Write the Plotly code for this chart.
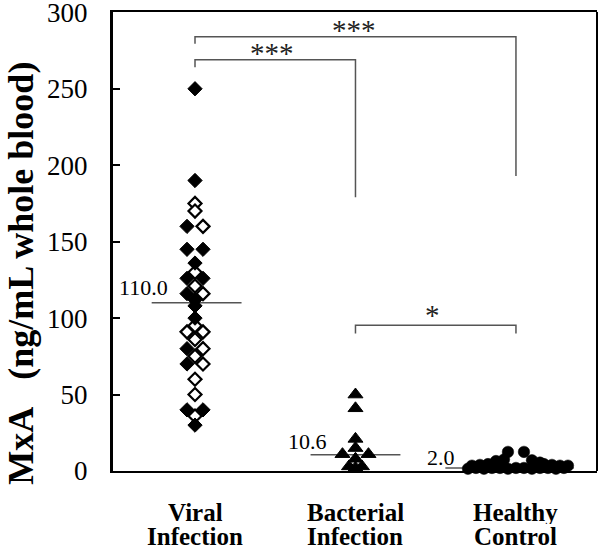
import plotly.graph_objects as go

# ---------------- data ----------------
categories = ["Viral", "Bacterial", "Healthy"]
category_line2 = ["Infection", "Infection", "Control"]
medians = [110.0, 10.6, 2.0]
y_ticks = [0, 50, 100, 150, 200, 250, 300]

# Viral infection: value, column slot (-1 left, 0 centre, 1 right), filled(1)/open(0)
viral_values = [250, 190, 175, 170, 160, 160, 145, 145, 136, 130, 126, 126, 121,
                116, 116, 112, 108, 100, 95, 91, 91, 86, 80, 80, 75, 70, 70,
                60, 50, 40, 40, 36, 30]
viral_slots = [0, 0, 0, 0, -1, 1, -1, 1, 0, 0, -1, 1, 0,
               -1, 1, 0, 0, 0, 0, -1, 1, 0, -1, 1, 0, -1, 1,
               0, 0, -1, 1, 0, 0]
viral_filled = [1, 1, 0, 0, 1, 0, 1, 1, 1, 0, 1, 1, 0,
                1, 0, 1, 1, 1, 0, 0, 0, 0, 1, 0, 0, 1, 0,
                0, 0, 1, 1, 0, 1]

# Bacterial infection
bacterial_values = [50, 41, 21, 15, 11, 11, 8, 3, 3, 2]
bacterial_slots = [0, 0, 0, 0, -2, 2, 0, -1, 1, 0]

# Healthy control
healthy_values = [1.5, 2, 1.5, 2, 2, 1.5, 2, 2, 1.5, 2, 2, 1.5, 2,
                  3.5, 4, 4.5, 4.5, 4, 3.5, 3.5,
                  6.5, 7.5, 7, 5.5,
                  12.5, 12.5]
healthy_slots = [-12, -10, -8, -6, -4, -2, 0, 2, 4, 6, 8, 10, 12,
                 -11, -9, -7, 7, 9, 11, 13,
                 -5, -3, 4, 6,
                 -2, 2]

# significance brackets: (from category, to category, bar level, left leg end, right leg end, stars)
brackets = [
    (1, 3, 284, 279.5, 193, "***"),
    (1, 2, 269, 264, 179, "***"),
    (2, 3, 95.4, 90, 90, "*"),
]

FONT = "Liberation Serif"
UNIT = 1 / 160.5  # one pixel in x data units

fig = go.Figure()

# open viral diamonds first (filled ones drawn on top)
vx = [1 + s * 8 * UNIT for s in viral_slots]
fig.add_trace(go.Scatter(
    x=[x for x, f in zip(vx, viral_filled) if not f],
    y=[v for v, f in zip(viral_values, viral_filled) if not f],
    mode="markers", cliponaxis=False,
    marker=dict(symbol="diamond", size=10, color="white",
                line=dict(color="black", width=2.2)),
    showlegend=False))
fig.add_trace(go.Scatter(
    x=[x for x, f in zip(vx, viral_filled) if f],
    y=[v for v, f in zip(viral_values, viral_filled) if f],
    mode="markers", cliponaxis=False,
    marker=dict(symbol="diamond", size=11, color="black",
                line=dict(color="black", width=1)),
    showlegend=False))

fig.add_trace(go.Scatter(
    x=[2 + s * 6.5 * UNIT for s in bacterial_slots],
    y=bacterial_values, mode="markers", cliponaxis=False,
    marker=dict(symbol="triangle-up", size=13, color="black",
                line=dict(color="black", width=1)),
    showlegend=False))

fig.add_trace(go.Scatter(
    x=[3 + s * 4 * UNIT for s in healthy_slots],
    y=healthy_values, mode="markers", cliponaxis=False,
    marker=dict(symbol="circle", size=11.5, color="black",
                line=dict(color="black", width=0.5)),
    showlegend=False))

# median lines and labels
med_extent = [(-0.27, 0.29), (-0.28, 0.28), (-0.44, 0.36)]
med_label_dx = [-0.156, -0.165, -0.368]
med_label_dy = [10, 8.5, 7]
for i, m in enumerate(medians):
    c = i + 1
    fig.add_shape(type="line", x0=c + med_extent[i][0], x1=c + med_extent[i][1],
                  y0=m, y1=m, line=dict(color="#555555", width=1.5), layer="below")
    fig.add_annotation(x=c + med_label_dx[i], y=m + med_label_dy[i], text=f"{m:.1f}",
                       showarrow=False, xanchor="right", yanchor="middle",
                       font=dict(family=FONT, size=22, color="black"))

# brackets
for a, b, lvl, la, rb, stars in brackets:
    fig.add_shape(type="path",
                  path=f"M {a},{la} L {a},{lvl} L {b},{lvl} L {b},{rb}",
                  line=dict(color="#555555", width=1.5))
    fig.add_annotation(x=(a + b) / 2 - (0.01 if b - a == 2 else 0.02),
                       y=lvl, text=stars, showarrow=False, yanchor="bottom",
                       yshift=-11 if stars == "***" else -8,
                       font=dict(family=FONT, size=29, color="#222222"))

# category labels (two lines)
for i, (l1, l2) in enumerate(zip(categories, category_line2)):
    fig.add_annotation(x=i + 1, y=-0.09, xref="x", yref="paper", text=f"<b>{l1}</b>",
                       showarrow=False, yanchor="middle", height=23,
                       font=dict(family=FONT, size=25, color="black"))
    fig.add_annotation(x=i + 1, y=-0.143, xref="x", yref="paper", text=f"<b>{l2}</b>",
                       showarrow=False, yanchor="middle", height=23,
                       font=dict(family=FONT, size=25, color="black"))

# y-axis title
fig.add_annotation(x=-0.19, y=0.43, xref="paper", yref="paper", textangle=-90,
                   text="<b>MxA\u00a0\u00a0\u00a0(ng/mL whole blood)</b>",
                   showarrow=False, xanchor="center", yanchor="middle",
                   font=dict(family=FONT, size=36, color="black"))

# right frame line
fig.add_shape(type="line", xref="paper", yref="paper", x0=1, x1=1, y0=0, y1=1,
              line=dict(color="black", width=2))

fig.update_layout(
    width=600, height=547,
    margin=dict(l=113, r=3, t=12, b=76, autoexpand=False),
    plot_bgcolor="white", paper_bgcolor="white",
    xaxis=dict(range=[0.489, 3.505], showline=True, linewidth=2, linecolor="black",
               mirror=True, showticklabels=False, ticks="", showgrid=False,
               zeroline=False),
    yaxis=dict(range=[0, 300.2], tickvals=y_ticks, ticklabeloverflow="allow",
               ticks="inside", ticklen=7, tickwidth=2, tickcolor="black",
               showline=True, linewidth=3, linecolor="black", showgrid=False,
               zeroline=False, ticklabelstandoff=17, automargin=False,
               tickfont=dict(family=FONT, size=27, color="black")),
)

fig.write_html("out.html", config={"displayModeBar": False},
               post_script="document.body.style.margin='0px';")
